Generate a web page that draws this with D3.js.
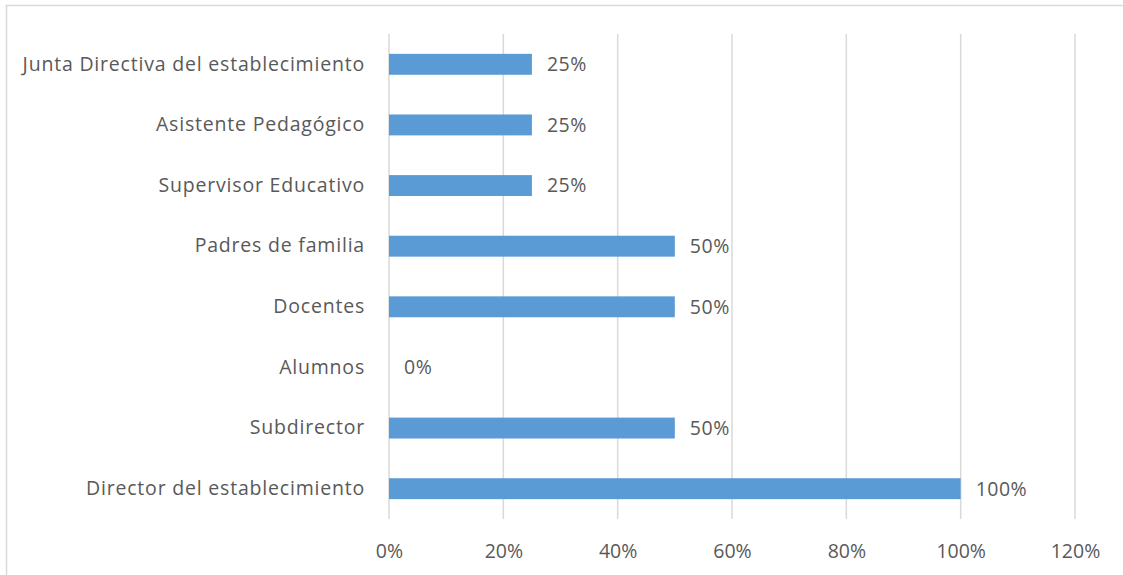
<!DOCTYPE html>
<html>
<head>
<meta charset="utf-8">
<script src="https://cdn.jsdelivr.net/npm/d3@7"></script>
<style>
  html, body { margin: 0; padding: 0; background: #fff; }
  svg { display: block; }
  text { font-family: "Open Sans", "Noto Sans", sans-serif; fill: #595959; }
</style>
</head>
<body>
<svg id="chart" width="1123" height="575"></svg>
<script>
// Categories, listed from the top row down
const categories = [
  "Junta Directiva del establecimiento",
  "Asistente Pedagógico",
  "Supervisor Educativo",
  "Padres de familia",
  "Docentes",
  "Alumnos",
  "Subdirector",
  "Director del establecimiento"
];
const values = [0.25, 0.25, 0.25, 0.50, 0.50, 0.00, 0.50, 1.00];
const tickValues = [0, 0.2, 0.4, 0.6, 0.8, 1.0, 1.2];

const svg = d3.select("#chart");
const W = 1123, H = 575;
const FS = 19.5;

// outer frame
svg.append("rect")
  .attr("x", 6.5).attr("y", 5.5)
  .attr("width", W + 10).attr("height", H + 10)
  .attr("fill", "none").attr("stroke", "#d9d9d9").attr("stroke-width", 1.5);

const plot = { left: 389, right: 1075, top: 34, bottom: 519 };

const x = d3.scaleLinear().domain([0, 1.2]).range([plot.left, plot.right]);
const y = d3.scaleBand().domain(categories).range([plot.top, plot.bottom]).paddingInner(0.655).paddingOuter(0.3275);

// vertical gridlines
svg.append("g").selectAll("line").data(tickValues).join("line")
  .attr("x1", d => x(d)).attr("x2", d => x(d))
  .attr("y1", plot.top).attr("y2", plot.bottom)
  .attr("stroke", "#d9d9d9").attr("stroke-width", 1.5);

// bars
svg.append("g").selectAll("rect").data(values).join("rect")
  .attr("x", x(0))
  .attr("y", (d, i) => y(categories[i]))
  .attr("width", d => x(d) - x(0))
  .attr("height", y.bandwidth())
  .attr("fill", "#5b9bd5");

// value labels
svg.append("g").selectAll("text").data(values).join("text")
  .attr("x", d => x(d) + 15)
  .attr("y", (d, i) => y(categories[i]) + y.bandwidth() / 2)
  .attr("dy", "0.35em")
  .attr("font-size", FS)
  .attr("letter-spacing", 0.5)
  .text(d => d3.format(".0%")(d));

// category labels
const yAxis = d3.axisLeft(y).tickSize(0).tickPadding(24);
const gy = svg.append("g").attr("transform", `translate(${plot.left},0)`).call(yAxis)
  .attr("font-family", null).attr("font-size", FS);
gy.select(".domain").remove();
gy.selectAll("text").attr("fill", "#595959").attr("letter-spacing", 0.8);

// x tick labels
const xAxis = d3.axisBottom(x).tickValues(tickValues).tickSize(0).tickPadding(25).tickFormat(d3.format(".0%"));
const gx = svg.append("g").attr("transform", `translate(0,${plot.bottom})`).call(xAxis)
  .attr("font-family", null).attr("font-size", FS);
gx.select(".domain").remove();
gx.selectAll("text").attr("fill", "#595959");
</script>
</body>
</html>
